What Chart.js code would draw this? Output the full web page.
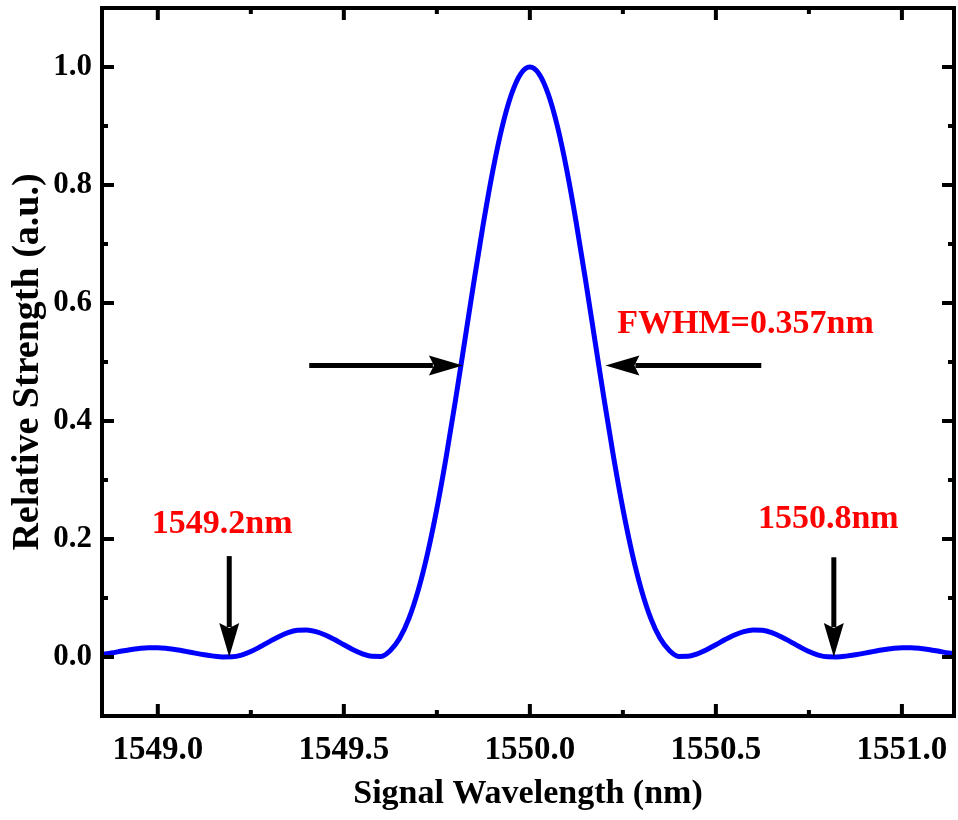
<!DOCTYPE html>
<html>
<head>
<meta charset="utf-8">
<style>
  html, body { margin: 0; padding: 0; background: #fff; }
  #wrap { width: 958px; height: 820px; }
</style>
</head>
<body>
<div id="wrap"><canvas id="chart" width="958" height="820"></canvas></div>
<script src="https://cdn.jsdelivr.net/npm/chart.js@4.4.1/dist/chart.umd.min.js"></script>
<script>
// Values (wavelength in nm, relative strength in a.u.)
var wavelength = [
  1548.850, 1548.875, 1548.900, 1548.925, 1548.950, 1548.975, 1549.000, 1549.025,
  1549.050, 1549.075, 1549.100, 1549.125, 1549.150, 1549.175, 1549.200, 1549.225,
  1549.250, 1549.275, 1549.300, 1549.325, 1549.350, 1549.375, 1549.400, 1549.425,
  1549.450, 1549.475, 1549.500, 1549.525, 1549.550, 1549.575, 1549.600, 1549.625,
  1549.650, 1549.675, 1549.700, 1549.725, 1549.750, 1549.775, 1549.800, 1549.825,
  1549.850, 1549.875, 1549.900, 1549.925, 1549.950, 1549.975, 1550.000, 1550.025,
  1550.050, 1550.075, 1550.100, 1550.125, 1550.150, 1550.175, 1550.200, 1550.225,
  1550.250, 1550.275, 1550.300, 1550.325, 1550.350, 1550.375, 1550.400, 1550.425,
  1550.450, 1550.475, 1550.500, 1550.525, 1550.550, 1550.575, 1550.600, 1550.625,
  1550.650, 1550.675, 1550.700, 1550.725, 1550.750, 1550.775, 1550.800, 1550.825,
  1550.850, 1550.875, 1550.900, 1550.925, 1550.950, 1550.975, 1551.000, 1551.025,
  1551.050, 1551.075, 1551.100, 1551.125, 1551.150
];
var strength = [
  0.0045, 0.0068, 0.0096, 0.0124, 0.0145, 0.0157, 0.0157, 0.0145,
  0.0124, 0.0096, 0.0065, 0.0037, 0.0015, 0.0002, 0.0003, 0.0033,
  0.0093, 0.0173, 0.0261, 0.0345, 0.0412, 0.0452, 0.0458, 0.0431,
  0.0374, 0.0296, 0.0208, 0.0123, 0.0054, 0.0011, 0.0010, 0.0110,
  0.0316, 0.0655, 0.1134, 0.1755, 0.2513, 0.3388, 0.4348, 0.5360,
  0.6375, 0.7348, 0.8229, 0.8970, 0.9530, 0.9881, 1.0000, 0.9881,
  0.9530, 0.8970, 0.8229, 0.7348, 0.6375, 0.5360, 0.4348, 0.3388,
  0.2513, 0.1755, 0.1134, 0.0655, 0.0316, 0.0110, 0.0010, 0.0011,
  0.0054, 0.0123, 0.0208, 0.0296, 0.0374, 0.0431, 0.0458, 0.0452,
  0.0412, 0.0345, 0.0261, 0.0173, 0.0093, 0.0033, 0.0003, 0.0002,
  0.0015, 0.0037, 0.0065, 0.0096, 0.0124, 0.0145, 0.0157, 0.0157,
  0.0145, 0.0124, 0.0096, 0.0068, 0.0045
];

var xMajor = [1549.0, 1549.5, 1550.0, 1550.5, 1551.0];
var xMinor = [1549.25, 1549.75, 1550.25, 1550.75];
var yMajor = [0.0, 0.2, 0.4, 0.6, 0.8, 1.0];
var yMinor = [0.1, 0.3, 0.5, 0.7, 0.9];

// annotation arrows and labels, in data units
var arrows = [
  { x0: 1549.192, y0: 0.171, x1: 1549.192, y1: 0.0 },
  { x0: 1550.817, y0: 0.169, x1: 1550.817, y1: 0.0 },
  { x0: 1549.407, y0: 0.494, x1: 1549.820, y1: 0.494 },
  { x0: 1550.622, y0: 0.494, x1: 1550.203, y1: 0.494 }
];
var notes = [
  { text: 'FWHM=0.357nm', x: 1550.235, y: 0.549, align: 'left' },
  { text: '1549.2nm', x: 1549.173, y: 0.211, align: 'center' },
  { text: '1550.8nm', x: 1550.802, y: 0.218, align: 'center' }
];

var SERIF = '"Liberation Serif", "Times New Roman", serif';

// frame with inward ticks on all four sides, plus the arrows and red notes
var framePlugin = {
  id: 'frame',
  afterDraw: function (chart) {
    var c = chart.ctx, a = chart.chartArea;
    var xs = chart.scales.x, ys = chart.scales.y;
    c.save();
    c.strokeStyle = '#000';
    c.lineWidth = 4;
    c.lineCap = 'butt';
    c.strokeRect(a.left, a.top, a.right - a.left, a.bottom - a.top);

    function tickX(v, len) {
      var p = xs.getPixelForValue(v);
      c.beginPath();
      c.moveTo(p, a.bottom); c.lineTo(p, a.bottom - len);
      c.moveTo(p, a.top); c.lineTo(p, a.top + len);
      c.stroke();
    }
    function tickY(v, len) {
      var p = ys.getPixelForValue(v);
      c.beginPath();
      c.moveTo(a.left, p); c.lineTo(a.left + len, p);
      c.moveTo(a.right, p); c.lineTo(a.right - len, p);
      c.stroke();
    }
    xMajor.forEach(function (v) { tickX(v, 12); });
    xMinor.forEach(function (v) { tickX(v, 6); });
    yMajor.forEach(function (v) { tickY(v, 12); });
    yMinor.forEach(function (v) { tickY(v, 6); });

    // arrows
    c.fillStyle = '#000';
    c.lineWidth = 5;
    arrows.forEach(function (ar) {
      var px0 = xs.getPixelForValue(ar.x0), py0 = ys.getPixelForValue(ar.y0);
      var px1 = xs.getPixelForValue(ar.x1), py1 = ys.getPixelForValue(ar.y1);
      var dx = px1 - px0, dy = py1 - py0;
      var L = Math.sqrt(dx * dx + dy * dy);
      var ux = dx / L, uy = dy / L;
      var head = 34, half = 10;
      var bx = px1 - ux * head, by = py1 - uy * head;
      c.beginPath();
      c.moveTo(px0, py0); c.lineTo(bx + ux * 4, by + uy * 4);
      c.stroke();
      c.beginPath();
      c.moveTo(px1, py1);
      c.lineTo(bx - uy * half, by + ux * half);
      c.lineTo(bx + ux * 5, by + uy * 5);
      c.lineTo(bx + uy * half, by - ux * half);
      c.closePath();
      c.fill();
    });

    // red notes
    c.fillStyle = '#ff0000';
    c.font = 'bold 34px ' + SERIF;
    c.textBaseline = 'alphabetic';
    notes.forEach(function (n) {
      c.textAlign = n.align;
      c.fillText(n.text, xs.getPixelForValue(n.x), ys.getPixelForValue(n.y));
    });
    c.restore();
  }
};

new Chart(document.getElementById('chart'), {
  type: 'line',
  data: {
    datasets: [{
      data: wavelength.map(function (w, i) { return { x: w, y: strength[i] }; }),
      borderColor: '#0000ff',
      borderWidth: 5,
      pointRadius: 0,
      fill: false,
      cubicInterpolationMode: 'monotone'
    }]
  },
  options: {
    responsive: false,
    animation: false,
    layout: { padding: { top: 8, right: 4, left: 0, bottom: 0 } },
    plugins: { legend: { display: false }, tooltip: { enabled: false } },
    scales: {
      x: {
        type: 'linear',
        min: 1548.85,
        max: 1551.14,
        afterBuildTicks: function (s) { s.ticks = xMajor.map(function (v) { return { value: v }; }); },
        afterFit: function (s) { s.height = 104; s.paddingLeft = 0; s.paddingRight = 0; },
        grid: { display: false, drawTicks: false },
        border: { display: false },
        ticks: {
          color: '#000',
          padding: 15,
          maxRotation: 0,
          font: { family: SERIF, weight: 'bold', size: 33 },
          callback: function (v) { return Number(v).toFixed(1); }
        },
        title: {
          display: true,
          text: 'Signal Wavelength (nm)',
          color: '#000',
          font: { family: SERIF, weight: 'bold', size: 34 },
          padding: { top: 0, bottom: 5 }
        }
      },
      y: {
        min: -0.1,
        max: 1.1,
        afterBuildTicks: function (s) { s.ticks = yMajor.map(function (v) { return { value: v }; }); },
        afterFit: function (s) { s.width = 102; s.paddingTop = 0; s.paddingBottom = 0; },
        grid: { display: false, drawTicks: false },
        border: { display: false },
        ticks: {
          color: '#000',
          padding: 10,
          font: { family: SERIF, weight: 'bold', size: 31 },
          callback: function (v) { return Number(v).toFixed(1); }
        },
        title: {
          display: true,
          text: 'Relative Strength (a.u.)',
          color: '#000',
          font: { family: SERIF, weight: 'bold', size: 38 },
          padding: { top: 5, bottom: 0 }
        }
      }
    }
  },
  plugins: [framePlugin]
});
</script>
</body>
</html>
